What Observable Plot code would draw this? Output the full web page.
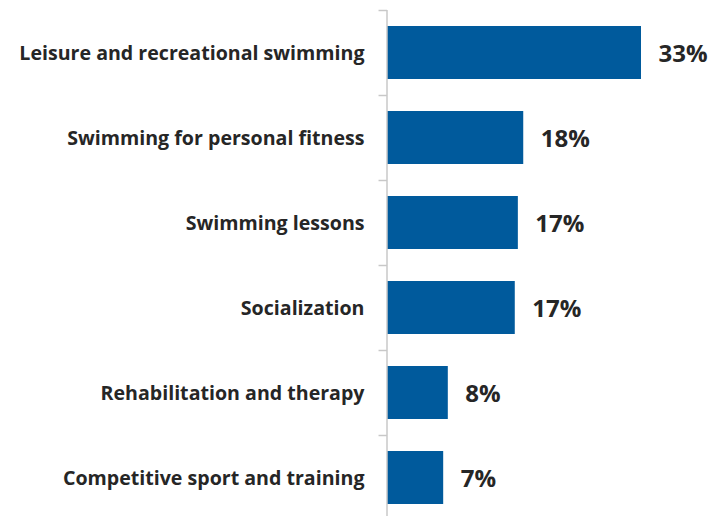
<!DOCTYPE html>
<html>
<head>
<meta charset="utf-8">
<script src="https://cdn.jsdelivr.net/npm/d3@7"></script>
<script src="https://cdn.jsdelivr.net/npm/@observablehq/plot@0.6"></script>
<style>
  html, body { margin: 0; padding: 0; background: #fff; }
  svg { display: block; }
</style>
</head>
<body>
<div id="chart"></div>
<script>
const categories = [
  "Leisure and recreational swimming",
  "Swimming for personal fitness",
  "Swimming lessons",
  "Socialization",
  "Rehabilitation and therapy",
  "Competitive sport and training"
];
const values = [33, 17.7, 17.0, 16.6, 7.9, 7.3];
const valueLabels = ["33%", "18%", "17%", "17%", "8%", "7%"];

const data = categories.map((c, i) => ({category: c, value: values[i], label: valueLabels[i]}));

const font = "'Open Sans', 'Liberation Sans', sans-serif";
const chart = Plot.plot({
  width: 717,
  height: 516,
  marginLeft: 387,
  marginRight: 76,
  marginTop: 10,
  marginBottom: 0,
  style: {fontFamily: font, background: "#fff"},
  x: {domain: [0, 33], axis: null},
  y: {domain: categories, range: [10, 520], paddingInner: 0.38, paddingOuter: 0.19, axis: null},
  marks: [
    Plot.barX(data, {y: "category", x: "value", fill: "#005A9C"}),
    Plot.ruleX([0], {stroke: "#c8c8c8", strokeWidth: 1.5, dx: -0.5}),
    Plot.ruleY(categories, {y: d => d, x1: -1.1, x2: 0, dy: -42.5, stroke: "#c8c8c8", strokeWidth: 1.5}),
    Plot.text(data, {y: "category", x: 0, text: "category", textAnchor: "end", dx: -23, dy: 1,
      fontSize: 19.6, fontWeight: "bold", fill: "#262626"}),
    Plot.text(data, {y: "category", x: "value", text: "label", textAnchor: "start", dx: 17, dy: 1,
      fontSize: 24, fontWeight: "bold", fill: "#262626"})
  ]
});
document.getElementById("chart").appendChild(chart);
</script>
</body>
</html>
